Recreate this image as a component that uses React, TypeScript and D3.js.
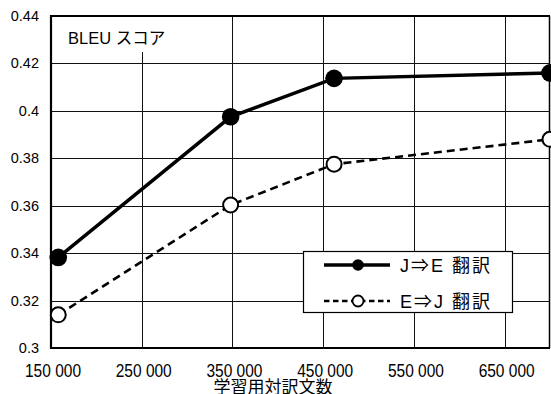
import React from "react";
import * as d3 from "d3";

const xTicks = [150000, 250000, 350000, 450000, 550000, 650000];
const yTicks = [0.3, 0.32, 0.34, 0.36, 0.38, 0.4, 0.42, 0.44];
const corpusSizes = [158000, 348000, 462000, 700000];
const jeScores = [0.3382, 0.3975, 0.4137, 0.416];
const ejScores = [0.314, 0.3603, 0.3775, 0.388];
const seriesNames = ["J⇒E 翻訳", "E⇒J 翻訳"];
const yTitle = "BLEU スコア";
const xTitle = "学習用対訳文数";

const W = 551;
const H = 394;
const M = { left: 51, right: 1, top: 16, bottom: 46 };
const FONT = "'Liberation Sans', Arial, 'Noto Sans CJK JP', sans-serif";

export default function App() {
  const x = d3.scaleLinear().domain([150000, 700000]).range([M.left, W - M.right]);
  const y = d3.scaleLinear().domain([0.3, 0.44]).range([H - M.bottom, M.top]);
  const line = d3
    .line<[number, number]>()
    .x((d) => x(d[0]))
    .y((d) => y(d[1]));
  const je: [number, number][] = corpusSizes.map((c, i) => [c, jeScores[i]]);
  const ej: [number, number][] = corpusSizes.map((c, i) => [c, ejScores[i]]);
  const fmt = (v: number) => d3.format(",")(v).replace(/,/g, " ");
  const x0 = x(150000);
  const x1 = W - M.right;
  const y0 = y(0.3);
  const y1 = y(0.44);

  return (
    <svg
      width={W}
      height={H}
      style={{ position: "absolute", left: 0, top: 0, background: "#fff" }}
      fontFamily={FONT}
    >
      <rect x={0} y={0} width={W} height={H} fill="#fff" />
      {/* grid */}
      {yTicks.slice(1, -1).map((t) => (
        <line key={"gy" + t} x1={x0} x2={x1} y1={Math.round(y(t)) + 0.5} y2={Math.round(y(t)) + 0.5} stroke="#111" strokeWidth={1} />
      ))}
      {xTicks.slice(1).map((t) => (
        <line key={"gx" + t} x1={Math.round(x(t)) + 0.5} x2={Math.round(x(t)) + 0.5} y1={y1} y2={y0} stroke="#111" strokeWidth={1} />
      ))}
      {/* title box covering grid */}
      <rect x={x0 + 2} y={y1 + 1} width={115} height={35} fill="#fff" />
      <text x={68} y={43.5} fontSize={16.5} fill="#000">
        {yTitle}
      </text>
      {/* frame */}
      <line x1={x0} x2={x1} y1={y1} y2={y1} stroke="#000" strokeWidth={2} />
      <line x1={x1 - 0.5} x2={x1 - 0.5} y1={y1} y2={y0} stroke="#000" strokeWidth={1.5} />
      <line x1={x0} x2={x0} y1={y1 - 1} y2={y0 + 1} stroke="#000" strokeWidth={2.2} />
      <line x1={x0 - 1} x2={x1} y1={y0} y2={y0} stroke="#000" strokeWidth={2.2} />
      {/* y tick labels */}
      {yTicks.map((t) => (
        <text key={"yl" + t} x={39} y={y(t) + 5} fontSize={14.5} textAnchor="end" fill="#000">
          {String(+t.toFixed(2))}
        </text>
      ))}
      {/* x tick labels */}
      {xTicks.map((t) => (
        <text
          key={"xl" + t}
          transform={`translate(${x(t) + 2},376.5) scale(1,1.2)`}
          fontSize={15.5}
          textAnchor="middle"
          fill="#000"
        >
          {fmt(t)}
        </text>
      ))}
      <text x={273} y={393} fontSize={17} textAnchor="middle" fill="#000">
        {xTitle}
      </text>
      {/* series */}
      <path d={line(ej) || ""} fill="none" stroke="#000" strokeWidth={2.6} strokeDasharray="8,5" />
      <path d={line(je) || ""} fill="none" stroke="#000" strokeWidth={3.5} />
      {je.map((d, i) => (
        <circle key={"je" + i} cx={x(d[0])} cy={y(d[1])} r={8.8} fill="#000" />
      ))}
      {ej.map((d, i) => (
        <circle key={"ej" + i} cx={x(d[0])} cy={y(d[1])} r={7.5} fill="#fff" stroke="#000" strokeWidth={2} />
      ))}
      {/* legend */}
      <rect x={303.5} y={251.5} width={209} height={61} fill="#fff" stroke="#000" strokeWidth={1.2} />
      <line x1={324} x2={390} y1={265} y2={265} stroke="#000" strokeWidth={3.5} />
      <circle cx={358} cy={265} r={5.8} fill="#000" />
      <text x={400} y={272} fontSize={18} letterSpacing={2} fill="#000">
        {seriesNames[0]}
      </text>
      <line x1={324} x2={390} y1={301} y2={301} stroke="#000" strokeWidth={2.5} strokeDasharray="5.5,3.5" />
      <circle cx={358} cy={301} r={5.5} fill="#fff" stroke="#000" strokeWidth={1.8} />
      <text x={400} y={308} fontSize={18} letterSpacing={2} fill="#000">
        {seriesNames[1]}
      </text>
    </svg>
  );
}
